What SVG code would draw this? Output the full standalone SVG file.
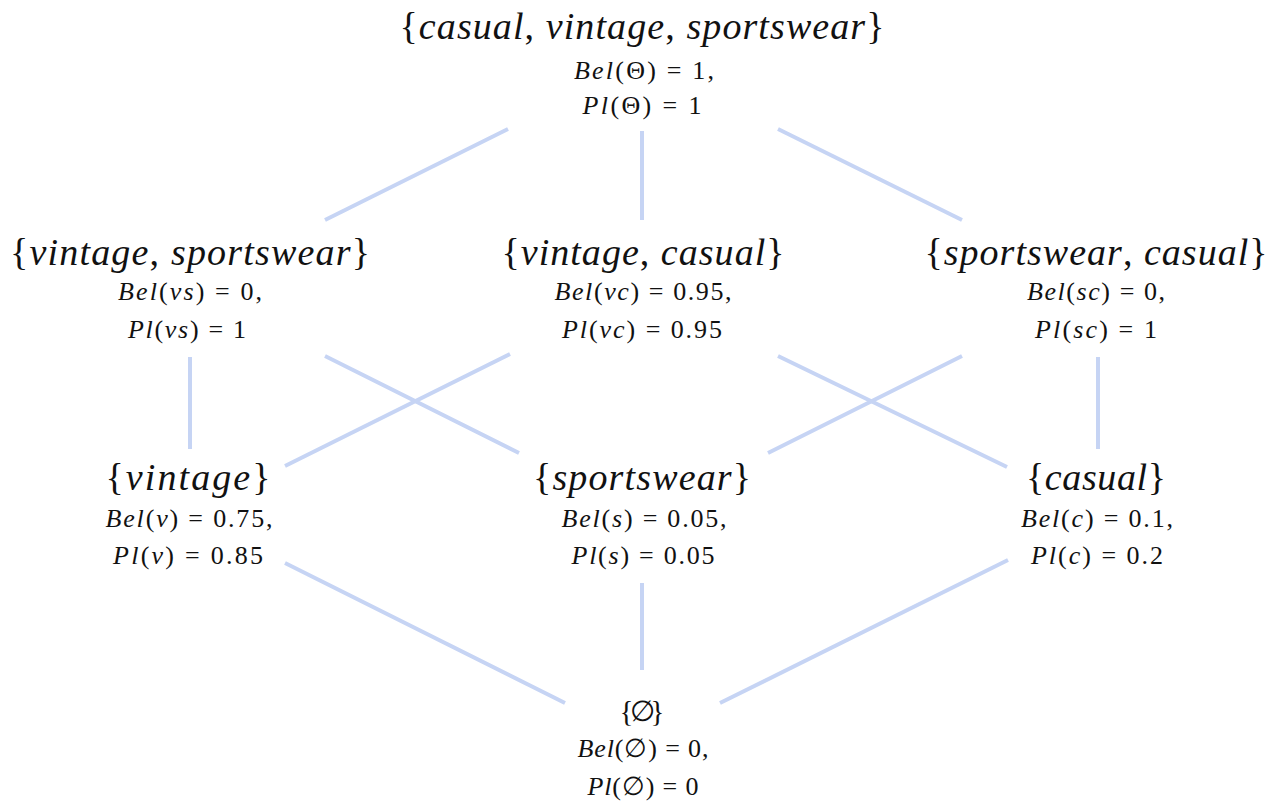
<svg xmlns="http://www.w3.org/2000/svg" width="1280" height="804" viewBox="0 0 1280 804">
<style>
text{font-family:"Liberation Serif","DejaVu Serif",serif;fill:#111;text-anchor:middle}
.h{font-size:38px}
.s{font-size:26px}
.i{font-style:italic}
.e{stroke:#c6d4f4;stroke-width:4;fill:none}
</style>
<rect width="1280" height="804" fill="#fff"/>
<g id="connectors">
<line class="e" x1="508" y1="129" x2="325" y2="220"/>
<line class="e" x1="642" y1="131" x2="642" y2="220"/>
<line class="e" x1="778" y1="129" x2="962" y2="220"/>
<line class="e" x1="190" y1="357" x2="190" y2="449"/>
<line class="e" x1="325" y1="356" x2="519" y2="453"/>
<line class="e" x1="510" y1="354" x2="285" y2="466"/>
<line class="e" x1="778" y1="356" x2="1007" y2="467"/>
<line class="e" x1="962" y1="356" x2="768" y2="453"/>
<line class="e" x1="1098" y1="357" x2="1098" y2="449"/>
<line class="e" x1="285" y1="563" x2="565" y2="703"/>
<line class="e" x1="642" y1="583" x2="642" y2="670"/>
<line class="e" x1="1008" y1="560" x2="720" y2="703"/>
</g>
<g id="n-theta">
<text class="h" x="642" y="39" textLength="485">{<tspan class="i">casual</tspan>, <tspan class="i">vintage</tspan>, <tspan class="i">sportswear</tspan>}</text>
<text class="s" x="644" y="79" textLength="140"><tspan class="i">Bel</tspan>(Θ) = 1,</text>
<text class="s" x="642" y="114" textLength="119"><tspan class="i">Pl</tspan>(Θ) = 1</text>
</g>
<g id="n-vs">
<text class="h" x="190" y="265" textLength="360">{<tspan class="i">vintage</tspan>, <tspan class="i">sportswear</tspan>}</text>
<text class="s" x="190" y="300" textLength="144"><tspan class="i">Bel</tspan>(<tspan class="i">vs</tspan>) = 0,</text>
<text class="s" x="187" y="338" textLength="118"><tspan class="i">Pl</tspan>(<tspan class="i">vs</tspan>) = 1</text>
</g>
<g id="n-vc">
<text class="h" x="643" y="265" textLength="283">{<tspan class="i">vintage</tspan>, <tspan class="i">casual</tspan>}</text>
<text class="s" x="643" y="300" textLength="177"><tspan class="i">Bel</tspan>(<tspan class="i">vc</tspan>) = 0.95,</text>
<text class="s" x="642" y="338" textLength="160"><tspan class="i">Pl</tspan>(<tspan class="i">vc</tspan>) = 0.95</text>
</g>
<g id="n-sc">
<text class="h" x="1096" y="265" textLength="343">{<tspan class="i">sportswear</tspan>, <tspan class="i">casual</tspan>}</text>
<text class="s" x="1096" y="300" textLength="138"><tspan class="i">Bel</tspan>(<tspan class="i">sc</tspan>) = 0,</text>
<text class="s" x="1096" y="338" textLength="122"><tspan class="i">Pl</tspan>(<tspan class="i">sc</tspan>) = 1</text>
</g>
<g id="n-v">
<text class="h" x="188" y="490" textLength="165">{<tspan class="i">vintage</tspan>}</text>
<text class="s" x="189" y="527" textLength="167"><tspan class="i">Bel</tspan>(<tspan class="i">v</tspan>) = 0.75,</text>
<text class="s" x="188" y="564" textLength="150"><tspan class="i">Pl</tspan>(<tspan class="i">v</tspan>) = 0.85</text>
</g>
<g id="n-s">
<text class="h" x="642" y="490" textLength="218">{<tspan class="i">sportswear</tspan>}</text>
<text class="s" x="644" y="527" textLength="165"><tspan class="i">Bel</tspan>(<tspan class="i">s</tspan>) = 0.05,</text>
<text class="s" x="643" y="564" textLength="143"><tspan class="i">Pl</tspan>(<tspan class="i">s</tspan>) = 0.05</text>
</g>
<g id="n-c">
<text class="h" x="1096" y="490" textLength="140">{<tspan class="i">casual</tspan>}</text>
<text class="s" x="1097" y="527" textLength="152"><tspan class="i">Bel</tspan>(<tspan class="i">c</tspan>) = 0.1,</text>
<text class="s" x="1097" y="564" textLength="132"><tspan class="i">Pl</tspan>(<tspan class="i">c</tspan>) = 0.2</text>
</g>
<g id="n-empty">
<text class="s" x="642" y="721" style="font-size:29px" textLength="45">{∅}</text>
<text class="s" x="643" y="757" textLength="131"><tspan class="i">Bel</tspan>(∅) = 0,</text>
<text class="s" x="643" y="795" textLength="111"><tspan class="i">Pl</tspan>(∅) = 0</text>
</g>
</svg>
